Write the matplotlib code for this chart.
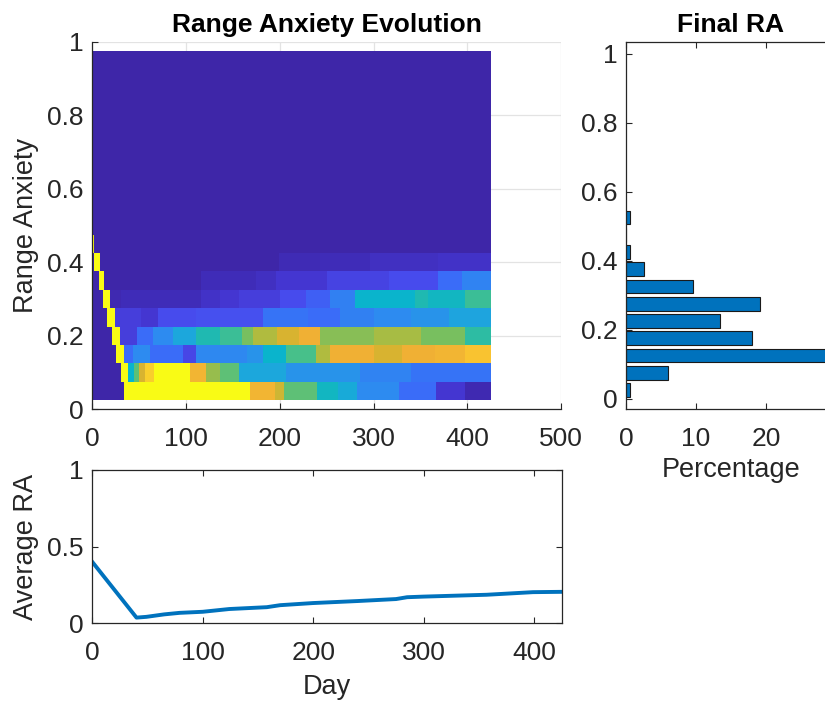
import numpy as np
import matplotlib
matplotlib.use("Agg")
import matplotlib.pyplot as plt
from matplotlib.colors import LinearSegmentedColormap

# ---- data ----
n_days = 425
ra_rows = [0.05, 0.10, 0.15, 0.20, 0.25, 0.30, 0.35, 0.40, 0.45,
           0.50, 0.55, 0.60, 0.65, 0.70, 0.75, 0.80, 0.85, 0.90, 0.95]

# (start day, level) for each RA row of the evolution map
ra_005 = [(0, 0), (34, 1), (168, 0.8), (195, 0.7), (204, 0.55), (240, 0.42),
          (262, 0.36), (282, 0.28), (327, 0.2), (366, 0.1), (397, 0.03)]
ra_010 = [(0, 0), (31, 1), (38, 0.4), (45, 0.55), (50, 0.72), (56, 0.88),
          (66, 1), (104, 0.8), (121, 0.62), (136, 0.55), (157, 0.35),
          (207, 0.3), (285, 0.26), (340, 0.22)]
ra_015 = [(0, 0), (26, 1), (34, 0.2), (44, 0.28), (62, 0.2), (97, 0.14),
          (111, 0.27), (165, 0.3), (182, 0.4), (207, 0.52), (239, 0.65),
          (253, 0.78), (300, 0.72), (330, 0.78), (365, 0.8), (397, 0.85)]
ra_020 = [(0, 0), (21, 1), (30, 0.12), (48, 0.2), (65, 0.28), (86, 0.35),
          (111, 0.45), (136, 0.5), (160, 0.58), (172, 0.65), (197, 0.72),
          (220, 0.78), (243, 0.6), (300, 0.64), (350, 0.58), (397, 0.48)]
ra_025 = [(0, 0), (16, 1), (24, 0.12), (52, 0.1), (70, 0.15), (111, 0.16),
          (182, 0.22), (230, 0.2), (264, 0.25), (300, 0.28), (340, 0.3),
          (380, 0.34)]
ra_030 = [(0, 0), (12, 1), (19, 0.03), (31, 0.05), (116, 0.08), (136, 0.1),
          (157, 0.12), (200, 0.15), (228, 0.18), (253, 0.25), (280, 0.4),
          (344, 0.45), (358, 0.42), (397, 0.5)]
ra_035 = [(0, 0), (7, 1), (13, 0), (116, 0.05), (175, 0.07), (196, 0.1),
          (250, 0.13), (316, 0.15), (369, 0.2), (394, 0.26)]
ra_040 = [(0, 0), (2, 1), (8, 0), (199, 0.04), (243, 0.05), (296, 0.07),
          (369, 0.08)]
ra_045 = [(0, 1), (2, 0)]
ra_empty = [(0, 0)]

# average RA over time
avg_days = [0, 40, 49, 65, 79, 100, 124, 158, 170, 200, 240, 275, 285, 300,
            357, 399, 424]
avg_vals = [0.40, 0.037, 0.042, 0.058, 0.068, 0.075, 0.093, 0.105, 0.118,
            0.132, 0.145, 0.158, 0.170, 0.174, 0.186, 0.203, 0.205]

# final RA histogram
final_bins = [0.025, 0.075, 0.125, 0.175, 0.225, 0.275, 0.325, 0.375, 0.425,
              0.475, 0.525]
final_pct = [0.5, 6.0, 29.6, 18.0, 13.5, 19.2, 9.6, 2.6, 0.5, 0.0, 0.5]

heat_xticks = [0, 100, 200, 300, 400, 500]
heat_yticks = [0, 0.2, 0.4, 0.6, 0.8, 1]
heat_yticklabels = ["0", "0.2", "0.4", "0.6", "0.8", "1"]
avg_xticks = [0, 100, 200, 300, 400]
avg_yticks = [0, 0.5, 1]
avg_yticklabels = ["0", "0.5", "1"]
hist_xticks = [0, 10, 20]

# parula-like colours
parula = LinearSegmentedColormap.from_list("parula", [
    (0.00, "#3e26a8"), (0.05, "#402db9"), (0.10, "#4537d2"),
    (0.15, "#484cee"), (0.20, "#3a6cf8"), (0.28, "#2d8cf0"),
    (0.35, "#1ca8dc"), (0.40, "#0ab4cc"), (0.47, "#28bca8"),
    (0.52, "#46c08c"), (0.58, "#78c060"), (0.65, "#b0bc40"),
    (0.72, "#d8b430"), (0.78, "#f0b035"), (0.86, "#fbc630"),
    (0.93, "#f5e224"), (1.00, "#f9fb15")])

rows = [ra_005, ra_010, ra_015, ra_020, ra_025, ra_030, ra_035, ra_040,
        ra_045] + [ra_empty] * 10

days = np.arange(n_days)
grid = np.zeros((len(ra_rows), n_days))
for i, seg in enumerate(rows):
    starts = np.array([s for s, v in seg])
    levels = np.array([v for s, v in seg])
    grid[i] = levels[np.searchsorted(starts, days, side="right") - 1]

plt.rcParams["font.family"] = ["Liberation Sans", "DejaVu Sans"]
ink = "#262626"
plt.rcParams["text.color"] = ink
plt.rcParams["axes.labelcolor"] = ink
plt.rcParams["xtick.color"] = ink
plt.rcParams["ytick.color"] = ink
title_font = dict(fontsize=19, fontweight="bold", color="black")
label_size = 19.5

fig = plt.figure(figsize=(8.25, 7.03), dpi=100)

def style(ax, box=True):
    for sp in ax.spines.values():
        sp.set_color(ink)
        sp.set_linewidth(0.9)
    ax.tick_params(direction="in", length=4, width=0.8, labelsize=19,
                   top=box, right=box)
    ax.tick_params(axis="x", pad=13)
    ax.tick_params(axis="y", pad=6)
    if not box:
        ax.spines["top"].set_visible(False)
        ax.spines["right"].set_visible(False)

# evolution map
ax1 = fig.add_axes([0.1119, 0.4182, 0.5682, 0.5225])
ax1.imshow(grid, extent=(0, n_days, 0.025, 0.975), origin="lower",
           aspect="auto", cmap=parula, vmin=0, vmax=1,
           interpolation="nearest", zorder=1)
ax1.set_xlim(0, 500)
ax1.set_ylim(0, 1)
ax1.set_xticks(heat_xticks)
ax1.set_yticks(heat_yticks)
ax1.set_yticklabels(heat_yticklabels)
ax1.set_axisbelow(True)
ax1.grid(True, color="#e3e3e3", linewidth=0.9)
style(ax1, box=False)
ax1.set_ylabel("Range Anxiety", fontsize=label_size, labelpad=6)
ax1.set_title("Range Anxiety Evolution", pad=7, **title_font)

# final histogram
ax2 = fig.add_axes([0.7588, 0.4182, 0.2545, 0.5225])
ax2.barh(final_bins, final_pct, height=0.04, color="#0072bd",
         edgecolor="#1a1a1a", linewidth=0.8)
ax2.set_xlim(0, 30)
ax2.set_ylim(-0.03, 1.035)
ax2.set_xticks(hist_xticks)
ax2.set_yticks(heat_yticks)
ax2.set_yticklabels(heat_yticklabels)
style(ax2, box=True)
ax2.set_xlabel("Percentage", fontsize=label_size, labelpad=4)
ax2.set_title("Final RA", pad=7, **title_font)

# average RA
ax3 = fig.add_axes([0.1119, 0.1134, 0.569, 0.2181])
ax3.plot(avg_days, avg_vals, color="#0072bd", linewidth=2.8)
ax3.set_xlim(0, n_days)
ax3.set_ylim(0, 1)
ax3.set_xticks(avg_xticks)
ax3.set_yticks(avg_yticks)
ax3.set_yticklabels(avg_yticklabels)
style(ax3, box=True)
ax3.set_xlabel("Day", fontsize=label_size, labelpad=6)
ax3.set_ylabel("Average RA", fontsize=label_size, labelpad=6)

fig.savefig("out.png", dpi=100)
